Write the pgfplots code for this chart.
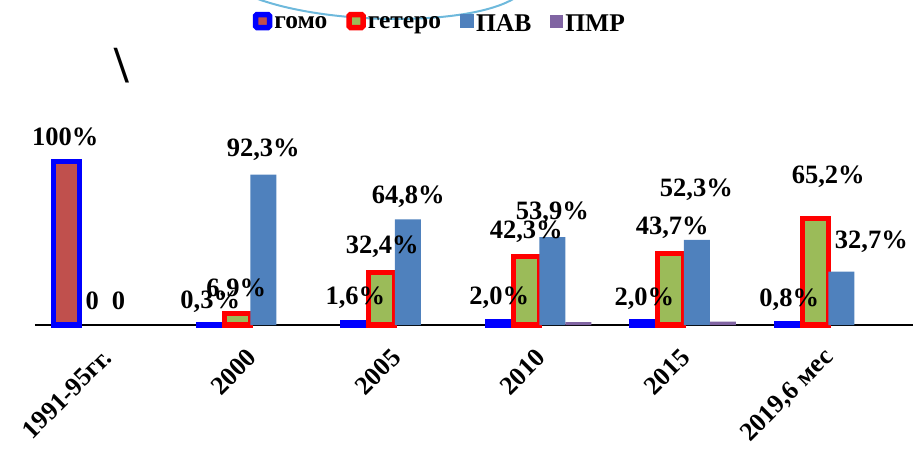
\documentclass[border=0pt]{standalone}
\usepackage{fontspec}
\setmainfont{Liberation Serif}
\usepackage{pgfplots}
\pgfplotsset{compat=1.18}
\definecolor{homo}{RGB}{192,80,77}
\definecolor{hetero}{RGB}{155,187,89}
\definecolor{pav}{RGB}{79,129,189}
\definecolor{pmr}{RGB}{128,100,162}
\definecolor{arcc}{RGB}{110,185,220}
\newcommand{\lblfont}{\fontsize{26.5bp}{29bp}\selectfont\bfseries}
\begin{document}
\begin{tikzpicture}
\draw[arcc, line width=2bp] (255bp,456bp) .. controls (330bp,428bp) and (470bp,428bp) .. (515bp,456bp);
\node[font=\fontsize{52bp}{56bp}\selectfont\bfseries] at (121.5bp,388.5bp) {\textbackslash};
\begin{axis}[
  at={(35bp,129bp)}, anchor=south west,
  scale only axis, width=880bp, height=179.3bp,
  xmin=-0.49, xmax=5.6, ymin=0, ymax=110,
  ybar=0pt, bar width=26bp,
  axis x line*=bottom, axis y line=none,
  x axis line style={black, line width=1.6bp},
  major tick length=0pt,
  xtick={0,1,2,3,4,5},
  xticklabels={1991-95гг.,2000,2005,2010,2015,{2019,6 мес}},
  xticklabel style={font=\fontsize{26bp}{28bp}\selectfont\bfseries, yshift=-27bp, xshift=3bp, rotate=45, anchor=east, inner sep=2bp},
  clip=false,
  legend columns=4,
  legend style={draw=none, fill=none, at={(0.46,1.683)}, anchor=center,
    font=\fontsize{25.5bp}{27bp}\selectfont\bfseries,
    /tikz/every even column/.append style={column sep=17bp}},
]
\addplot[fill=homo, draw=blue, line width=5bp,
  legend image code/.code={\draw[fill=homo, draw=blue, line width=5.5bp, rounded corners=1.5bp] (0bp,-4bp) rectangle (14bp,9bp);}]
  coordinates {(0,100) (1,0.3) (2,1.6) (3,2.0) (4,2.0) (5,0.8)};
\addplot[fill=hetero, draw=red, line width=5bp,
  legend image code/.code={\draw[fill=hetero, draw=red, line width=5.5bp, rounded corners=1.5bp] (0bp,-4bp) rectangle (14bp,9bp);}]
  coordinates {(1,6.9) (2,32.4) (3,42.3) (4,43.7) (5,65.2)};
\addplot[fill=pav, draw=none,
  legend image code/.code={\fill[pav] (0bp,-4bp) rectangle (14bp,10bp);}]
  coordinates {(1,92.3) (2,64.8) (3,53.9) (4,52.3) (5,32.7)};
\addplot[fill=pmr, draw=none,
  legend image code/.code={\fill[pmr] (0bp,-4bp) rectangle (13bp,9bp);}]
  coordinates {(3,1.8) (4,2.0)};
\legend{гомо,гетеро,ПАВ,ПМР}
\node[font=\lblfont] at (axis cs:-0.280,115.3) {100\%};
\node[font=\lblfont] at (axis cs:-0.093,14.7) {0};
\node[font=\lblfont] at (axis cs:0.087,14.7) {0};
\node[font=\lblfont] at (axis cs:1.090,107.4) {92,3\%};
\node[font=\lblfont] at (axis cs:0.723,14.1) {0,3\%};
\node[font=\lblfont] at (axis cs:0.903,21.5) {6,9\%};
\node[font=\lblfont] at (axis cs:2.093,78.5) {64,8\%};
\node[font=\lblfont] at (axis cs:1.913,47.9) {32,4\%};
\node[font=\lblfont] at (axis cs:1.727,16.6) {1,6\%};
\node[font=\lblfont] at (axis cs:3.090,68.7) {53,9\%};
\node[font=\lblfont] at (axis cs:2.910,57.1) {42,3\%};
\node[font=\lblfont] at (axis cs:2.723,16.6) {2,0\%};
\node[font=\lblfont] at (axis cs:4.087,82.8) {52,3\%};
\node[font=\lblfont] at (axis cs:3.920,59.5) {43,7\%};
\node[font=\lblfont] at (axis cs:3.727,16.0) {2,0\%};
\node[font=\lblfont] at (axis cs:5.000,90.8) {65,2\%};
\node[font=\lblfont] at (axis cs:5.298,50.9) {32,7\%};
\node[font=\lblfont] at (axis cs:4.730,15.3) {0,8\%};
\end{axis}
\pgfresetboundingbox
\path[use as bounding box] (0bp,0bp) rectangle (913bp,454bp);
\end{tikzpicture}
\end{document}
